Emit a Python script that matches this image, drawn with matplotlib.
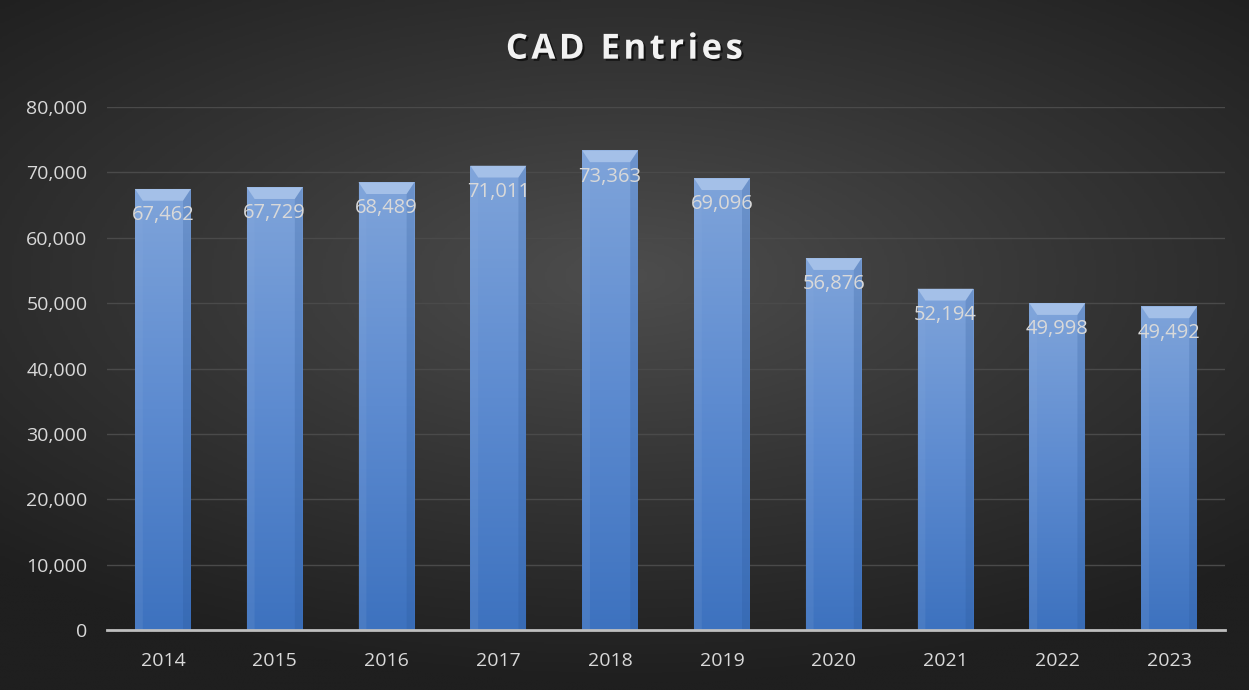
import numpy as np
import matplotlib.pyplot as plt
import matplotlib.patheffects as pe
from matplotlib.patches import Polygon
from matplotlib.colors import LinearSegmentedColormap

years = ['2014', '2015', '2016', '2017', '2018', '2019', '2020', '2021', '2022', '2023']
entries = [67462, 67729, 68489, 71011, 73363, 69096, 56876, 52194, 49998, 49492]

plt.rcParams['font.family'] = ['Open Sans', 'DejaVu Sans']

fig = plt.figure(figsize=(12.49, 6.90), dpi=100)

# fondo con degradado radial
bg = fig.add_axes([0, 0, 1, 1], zorder=0)
yy, xx = np.mgrid[-1:1:300j, -1:1:500j]
r = np.sqrt((xx * 0.9) ** 2 + ((yy + 0.2) * 1.1) ** 2)
bg.imshow(np.clip(r, 0, 1.3), cmap=LinearSegmentedColormap.from_list(
    'bg', ['#4d4d4d', '#353535', '#1f1f1f']), aspect='auto', extent=[0, 1, 0, 1])
bg.axis('off')

ax = fig.add_axes([107 / 1249, 60 / 690, (1225 - 107) / 1249, (630 - 107) / 690], zorder=1)
ax.set_facecolor('none')
x = np.arange(len(years))
w = 0.5
bars = ax.bar(x, entries, width=w, color='none', zorder=3)

# degradado de las barras
grad = np.linspace(0, 1, 256).reshape(-1, 1)
cmap_bar = LinearSegmentedColormap.from_list('bar', ['#3d72bf', '#5d8bd0', '#7fa4da'])
for b, v in zip(bars, entries):
    x0 = b.get_x()
    im = ax.imshow(grad, cmap=cmap_bar, aspect='auto', origin='lower',
                   extent=[x0, x0 + w, 0, v], zorder=2)
    im.set_clip_path(b)
    # bisel superior
    h = 1800
    dx = 0.07
    ax.add_patch(Polygon([[x0, v], [x0 + w, v], [x0 + w - dx, v - h], [x0 + dx, v - h]],
                         closed=True, facecolor='#a4c0e8', edgecolor='none', zorder=4))
    ax.add_patch(Polygon([[x0, v], [x0 + dx, v - h], [x0 + dx, 0], [x0, 0]],
                         closed=True, facecolor='#8fb0e0', edgecolor='none', alpha=0.15, zorder=4))
    ax.add_patch(Polygon([[x0 + w, v], [x0 + w - dx, v - h], [x0 + w - dx, 0], [x0 + w, 0]],
                         closed=True, facecolor='#24508f', edgecolor='none', alpha=0.2, zorder=4))
    ax.text(x0 + w / 2, v - 4000, f'{v:,}', ha='center', va='center',
            color='#d9d9d9', fontsize=14.5, zorder=5)

ax.set_xlim(-0.5, len(years) - 0.5)
ax.set_ylim(0, 80000)
ax.set_yticks(range(0, 80001, 10000))
ax.set_yticklabels([f'{t:,}' for t in range(0, 80001, 10000)])
ax.set_xticks(x)
ax.set_xticklabels(years)
ax.tick_params(colors='#d9d9d9', labelsize=14, length=0)
ax.tick_params(axis='y', pad=14)
ax.tick_params(axis='x', pad=16)
ax.grid(axis='y', color='#4a4a4a', lw=1, zorder=1)
ax.set_axisbelow(True)
for s in ['top', 'right', 'left']:
    ax.spines[s].set_visible(False)
ax.spines['bottom'].set_color('#bfbfbf')
ax.spines['bottom'].set_linewidth(2)
ax.spines['bottom'].set_zorder(6)

# titulo con un poco de espaciado entre letras
titulo = '\u200a'.join('CAD Entries')
fig.text(0.5, 0.928, titulo, ha='center', va='center',
         color='#f2f2f2', fontsize=25, fontweight='bold',
         path_effects=[pe.withSimplePatchShadow(offset=(1.5, -1.5), shadow_rgbFace='black', alpha=0.6)])

fig.savefig('out.png', dpi=100, facecolor='#262626')
